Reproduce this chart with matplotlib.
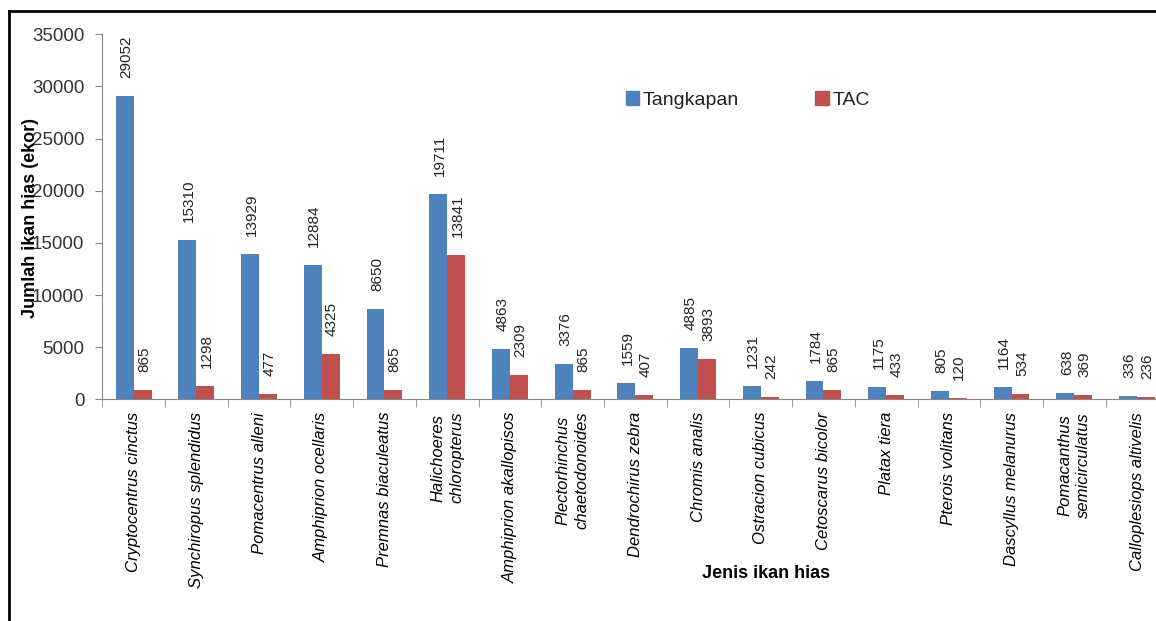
import numpy as np
import matplotlib
matplotlib.use('Agg')
from matplotlib import pyplot as plt
from matplotlib.lines import Line2D
from matplotlib.patches import Patch

plt.rcParams['font.family'] = ['Liberation Sans', 'DejaVu Sans']

species = ['Cryptocentrus cinctus', 'Synchiropus splendidus', 'Pomacentrus alleni',
           'Amphiprion ocellaris', 'Premnas biaculeatus', 'Halichoeres\nchloropterus',
           'Amphiprion akallopisos', 'Plectorhinchus\nchaetodonoides', 'Dendrochirus zebra',
           'Chromis analis', 'Ostracion cubicus', 'Cetoscarus bicolor', 'Platax tiera',
           'Pterois volitans', 'Dascyllus melanurus', 'Pomacanthus\nsemicirculatus',
           'Calloplesiops altivelis']
tangkapan = [29052, 15310, 13929, 12884, 8650, 19711, 4863, 3376, 1559, 4885,
             1231, 1784, 1175, 805, 1164, 638, 336]
tac = [865, 1298, 477, 4325, 865, 13841, 2309, 865, 407, 3893,
       242, 865, 433, 120, 534, 369, 236]
yticks = [0, 5000, 10000, 15000, 20000, 25000, 30000, 35000]

blue = '#4F81BD'
red = '#C0504D'

fig = plt.figure(figsize=(11.56, 6.21), dpi=100)
ax = fig.add_axes([0.0885, 0.357, 0.9222, 0.5878])

x = np.arange(len(species))
w = 0.285
b1 = ax.bar(x - w / 2, tangkapan, w, color=blue, label='Tangkapan')
b2 = ax.bar(x + w / 2, tac, w, color=red, label='TAC')

for bars, vals in ((b1, tangkapan), (b2, tac)):
    for r, v in zip(bars, vals):
        ax.annotate(str(v), (r.get_x() + r.get_width() / 2, r.get_height()),
                    xytext=(1, 13), textcoords='offset points', rotation=90,
                    ha='center', va='bottom', fontsize=11, color='#222222')

ax.set_xlim(-0.5, len(species) - 0.5)
ax.set_ylim(0, 35000)
ax.set_yticks(yticks)
ax.set_yticklabels([str(t) for t in yticks], fontsize=13.5, color='#333333')
ax.tick_params(axis='y', length=5, color='#888888', pad=8)

ax.set_xticks(x)
ax.set_xticklabels(species, rotation=90, fontsize=12, style='italic',
                   ha='center', va='top', multialignment='center', linespacing=1.35)
ax.tick_params(axis='x', which='major', length=0, pad=9)
ax.set_xticks(np.arange(len(species) + 1) - 0.5, minor=True)
ax.tick_params(axis='x', which='minor', length=6, color='#888888')

for s in ('top', 'right'):
    ax.spines[s].set_visible(False)
for s in ('left', 'bottom'):
    ax.spines[s].set_color('#888888')

fig.text(0.026, 0.649, 'Jumlah ikan hias (ekor)', rotation=90, ha='center', va='center',
         fontsize=13, fontweight='bold')
fig.text(0.663, 0.077, 'Jenis ikan hias', ha='center', va='center',
         fontsize=13, fontweight='bold')

handles = [Patch(color=blue), Patch(color=red)]
fig.legend(handles, ['Tangkapan', 'TAC'], ncol=2, frameon=False, fontsize=14,
           loc='center left', bbox_to_anchor=(0.526, 0.839),
           handlelength=0.7, handleheight=0.7, handletextpad=0.2,
           columnspacing=3.9, labelcolor='#222222')

# outer frame (top and left edges)
fig.add_artist(Line2D([0.008, 0.008], [0, 0.982], color='black', lw=2))
fig.add_artist(Line2D([0.008, 1.0], [0.982, 0.982], color='black', lw=2))

fig.savefig('out.png', dpi=100)
